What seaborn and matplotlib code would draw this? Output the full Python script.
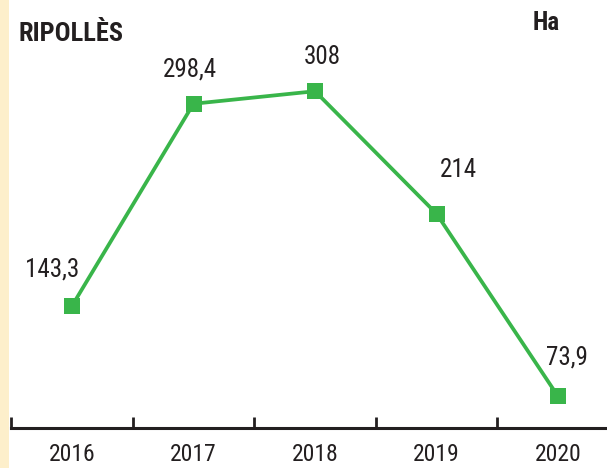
import matplotlib
matplotlib.use("Agg")
import matplotlib.pyplot as plt
import seaborn as sns
import pandas as pd
from matplotlib.patches import Rectangle

years = ["2016", "2017", "2018", "2019", "2020"]
values = [143.3, 298.4, 308, 214, 73.9]
labels = ["143,3", "298,4", "308", "214", "73,9"]
label_offsets = [(-20, 36), (-4, 34), (7, 34), (22, 44), (9, 39)]

sns.set_theme(style="white")
plt.rcParams['font.family'] = ['Roboto Condensed', 'DejaVu Sans']

green = "#39b54a"
txt = "#231f20"
fig = plt.figure(figsize=(6.07, 4.68), dpi=100)
ax = fig.add_axes([11/607, 40/468, 1 - 11/607, 428/468])

df = pd.DataFrame({"year": years, "value": values})
sns.lineplot(data=df, x="year", y="value", ax=ax, color=green, linewidth=2.7,
             marker="s", markersize=11.5, markeredgewidth=0, markerfacecolor=green)

ax.set_xlim(-0.502, 4.403)
ax.set_ylim(49.6, 378)
ax.set_xlabel("")
ax.set_ylabel("")
ax.set_yticks([])
ax.set_xticks(range(len(years)))
ax.set_xticklabels(years, fontsize=17, color=txt)
ax.set_xticks([i - 0.5 for i in range(len(years))], minor=True)
ax.tick_params(axis="x", which="major", length=0, pad=11)
ax.tick_params(axis="x", which="minor", length=8, width=2, color=txt, direction="in", bottom=True)
for s in ["top", "right", "left"]:
    ax.spines[s].set_visible(False)
ax.spines["bottom"].set_color(txt)
ax.spines["bottom"].set_linewidth(2.2)

for i, (v, lab, off) in enumerate(zip(values, labels, label_offsets)):
    ax.annotate(lab, (i, v), xytext=(off[0] * 0.72, off[1] * 0.72), textcoords="offset points",
                ha="center", va="center", fontsize=18, color=txt)

fig.patches.append(Rectangle((0, 0), 9/607, 1, transform=fig.transFigure,
                             facecolor="#fdefcb", edgecolor="none", zorder=0))
fig.text(18/607, 1 - 34/468, "RIPOLLÈS", fontsize=19, fontweight="bold",
         ha="left", va="center", color=txt)
fig.text(546/607, 1 - 23/468, "Ha", fontsize=18, fontweight="bold",
         ha="center", va="center", color=txt)

fig.savefig("out.png", dpi=100)
